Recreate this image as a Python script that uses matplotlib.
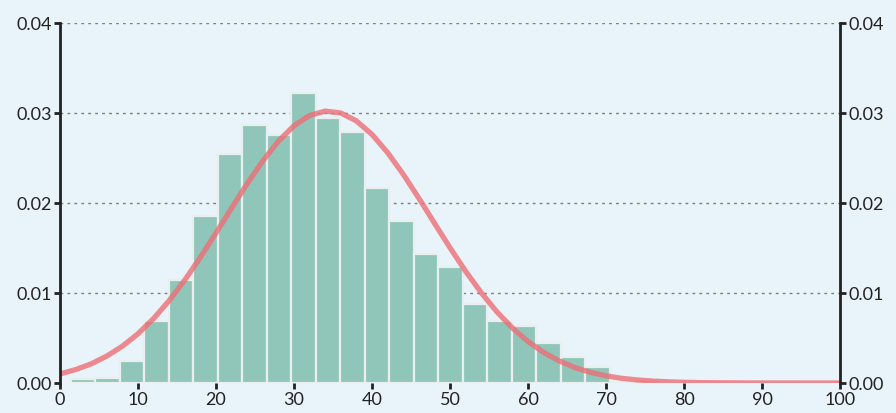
import numpy as np
import matplotlib
matplotlib.use("Agg")
import matplotlib.pyplot as plt

# histogram densities (24 bins)
bin_start = 1.41
bin_width = 3.14
densities = [0.0004, 0.00055, 0.0025, 0.0069, 0.0114, 0.0186, 0.0254, 0.0287,
             0.0276, 0.0322, 0.0295, 0.0279, 0.0217, 0.0180, 0.0143, 0.0129,
             0.0088, 0.0069, 0.0063, 0.0045, 0.0029, 0.0018, 0.0, 0.0003]

# fitted curve
curve_x = list(range(0, 101, 2))
curve_y = [0.00101, 0.00149, 0.00213, 0.00299, 0.00409, 0.00547, 0.00716, 0.00916,
           0.01144, 0.01397, 0.01667, 0.01944, 0.02216, 0.02468, 0.02687, 0.02859,
           0.02972, 0.03021, 0.03000, 0.02912, 0.02762, 0.02560, 0.02320, 0.02054,
           0.01777, 0.01503, 0.01242, 0.01004, 0.00792, 0.00611, 0.00461, 0.00340,
           0.00245, 0.00172, 0.00118, 0.00080, 0.00052, 0.00034, 0.00021, 0.00013,
           0.000077, 0.000045, 0.000026, 0.000014, 0.000008, 0.000004, 0.000002,
           0.000001, 0.0, 0.0, 0.0]

yticks = [0.0, 0.01, 0.02, 0.03, 0.04]
xticks = list(range(0, 101, 10))

plt.rcParams['font.family'] = ['Lato', 'DejaVu Sans']

bg = '#e9f3fa'
fig = plt.figure(figsize=(8.96, 4.14), dpi=100, facecolor=bg)
ax = fig.add_axes([60 / 896, 1 - 384 / 414, 780 / 896, 360 / 414], facecolor=bg)

# gridlines
for t in yticks[1:]:
    ax.axhline(t, color='#7a7f85', linestyle=(0, (2, 3)), linewidth=1.0, zorder=1)

lefts = [bin_start + i * bin_width for i in range(len(densities))]
ax.bar(lefts, densities, width=bin_width, align='edge', color='#8fc6b9',
       edgecolor='#e9eeee', linewidth=1.6, zorder=2)

ax.plot(curve_x, curve_y, color='#ee6e76', alpha=0.8, linewidth=3.8,
        solid_capstyle='butt', zorder=3)

ax.set_xlim(0, 100)
ax.set_ylim(0, 0.04)
ax.set_xticks(xticks)
ax.set_yticks(yticks)
ax.set_yticklabels([f"{t:.2f}" for t in yticks])

for side in ['top', 'bottom']:
    ax.spines[side].set_visible(False)
for side in ['left', 'right']:
    ax.spines[side].set_color('#222222')
    ax.spines[side].set_linewidth(2)
    ax.spines[side].set_zorder(4)

ax.tick_params(axis='y', which='both', left=True, right=True, labelleft=True,
               labelright=True, direction='out', length=4, width=2,
               color='#222222', labelsize=13, labelcolor='#222222', pad=2)
ax.tick_params(axis='x', direction='out', length=4, width=2, color='#222222',
               labelsize=13, labelcolor='#222222', pad=2)

fig.savefig("out.png", dpi=100, facecolor=bg)
